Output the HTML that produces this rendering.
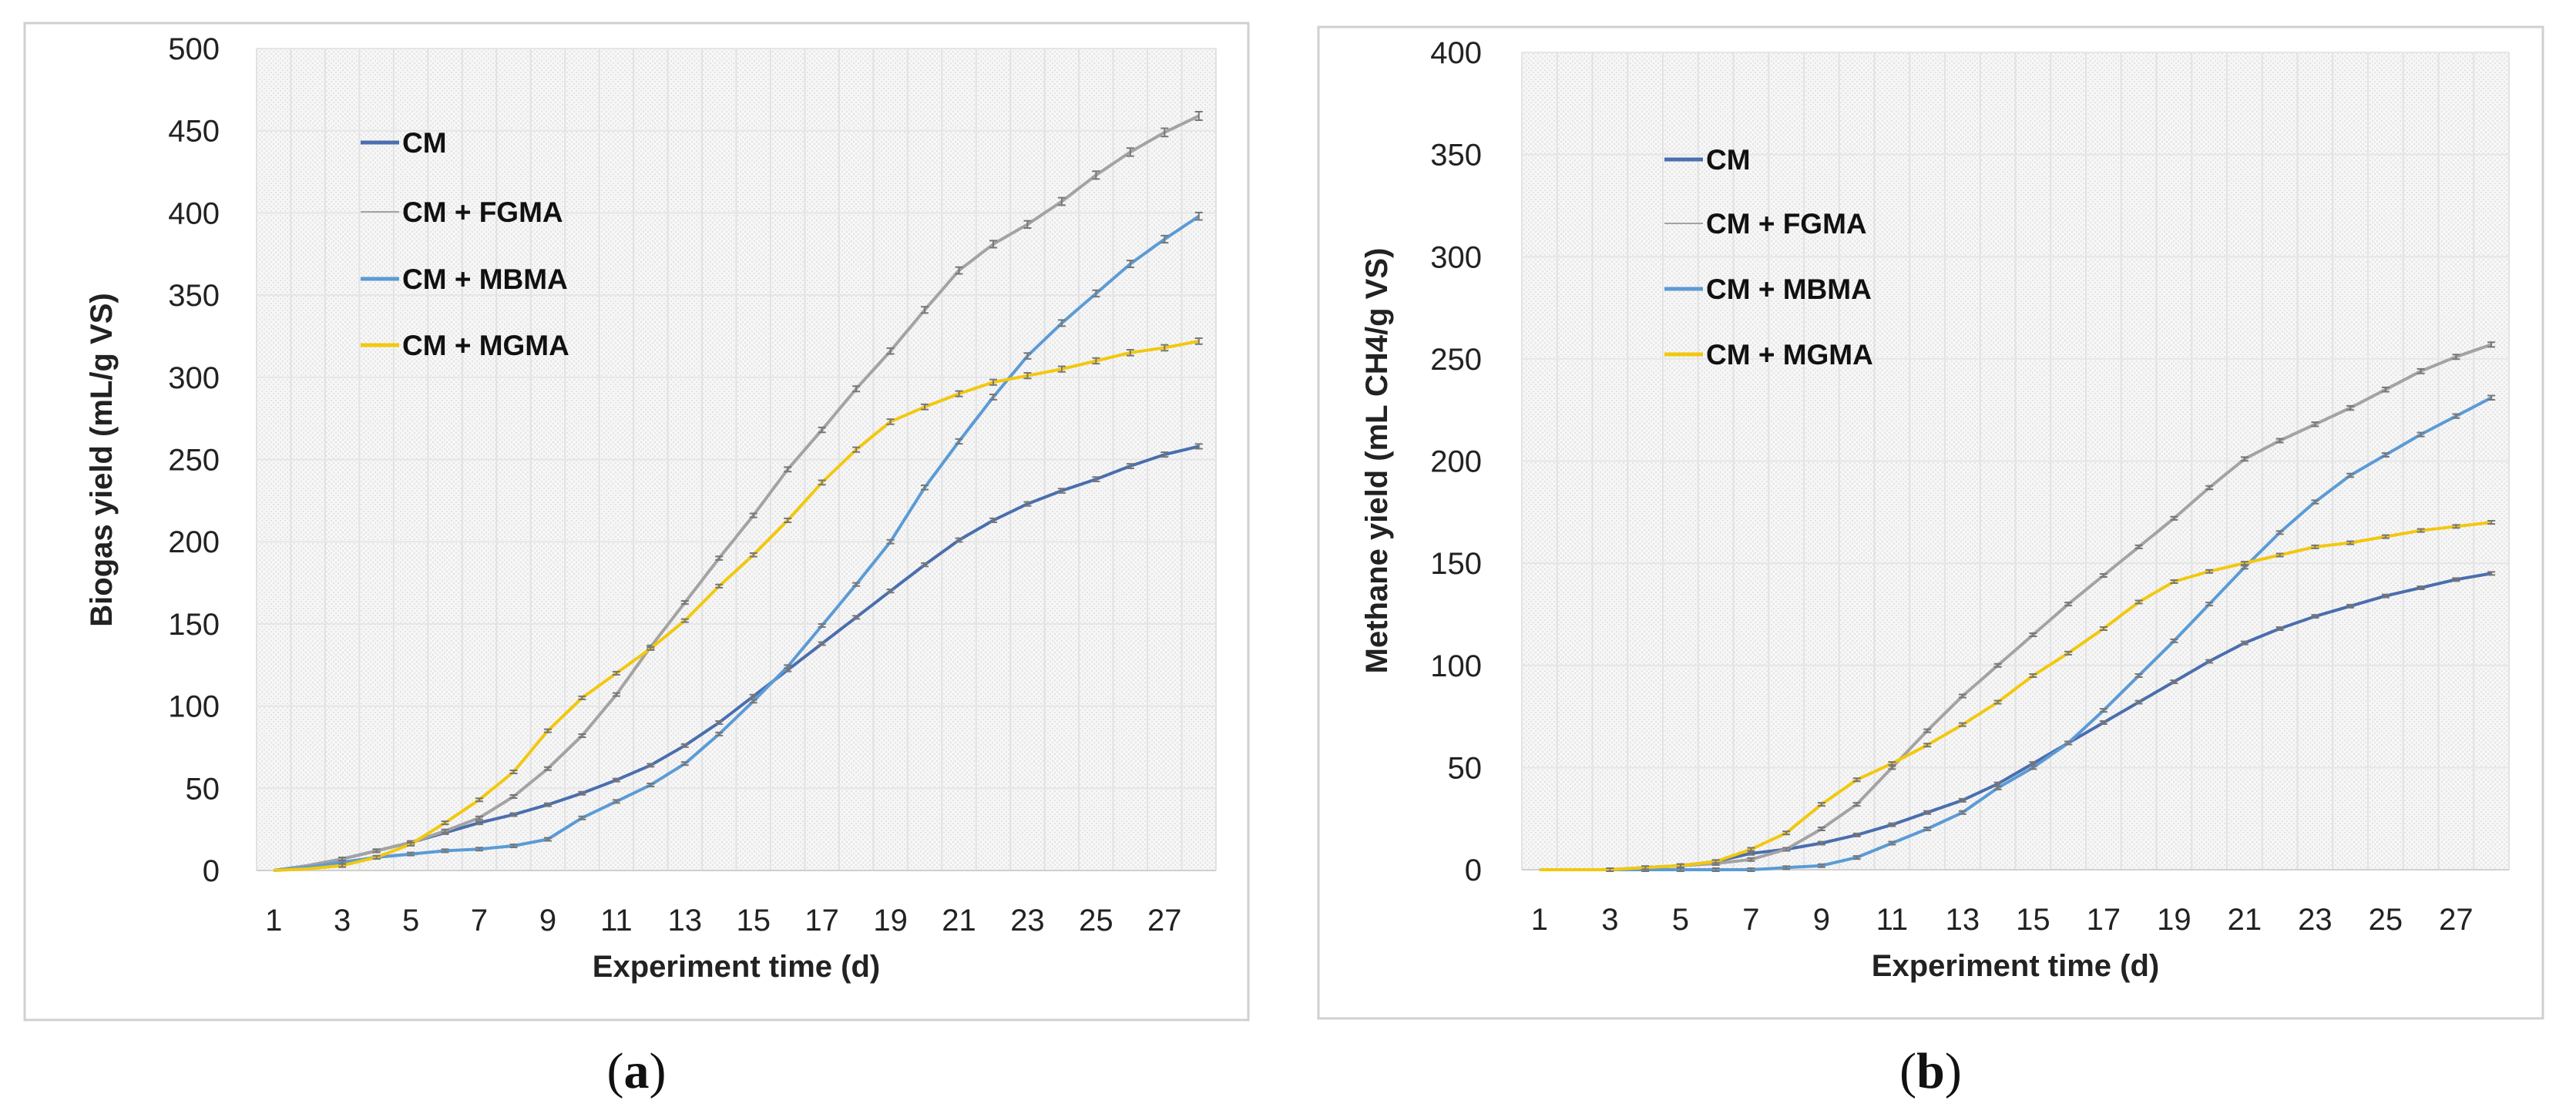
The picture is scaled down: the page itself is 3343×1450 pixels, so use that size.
<!DOCTYPE html>
<html><head><meta charset="utf-8"><style>
html,body{margin:0;padding:0;background:#fff;width:3343px;height:1450px;overflow:hidden}
svg text{font-family:"Liberation Sans",sans-serif}
</style></head><body>
<svg id="fig" width="3343" height="1450" viewBox="0 0 3343 1450" xmlns="http://www.w3.org/2000/svg">
<defs>
<pattern id="dots" width="6" height="6" patternUnits="userSpaceOnUse"><rect width="6" height="6" fill="#f6f6f6"/><rect width="2" height="2" fill="#e4e4e4"/><rect x="3" y="3" width="2" height="2" fill="#e4e4e4"/></pattern>
</defs>
</svg>
<script>
const days = [1,2,3,4,5,6,7,8,9,10,11,12,13,14,15,16,17,18,19,20,21,22,23,24,25,26,27,28];
const seriesNames = ["CM","CM + FGMA","CM + MBMA","CM + MGMA"];
const biogasCM = [0,3,7,12,17,23,29,34,40,47,55,64,76,90,106,122,138,154,170,186,201,213,223,231,238,246,253,258];
const biogasFGMA = [0,3,7,12,17,24,32,45,62,82,107,136,163,190,216,244,268,293,316,341,365,381,393,407,423,437,449,459];
const biogasMBMA = [0,2,5,8,10,12,13,15,19,32,42,52,65,83,103,124,149,174,200,233,261,288,313,333,351,369,384,398];
const biogasMGMA = [0,1,3,8,16,29,43,60,85,105,120,135,152,173,192,213,236,256,273,282,290,297,301,305,310,315,318,322];
const methaneCM = [0,0,0,1,2,4,8,10,13,17,22,28,34,42,52,62,72,82,92,102,111,118,124,129,134,138,142,145];
const methaneFGMA = [0,0,0,1,2,3,5,10,20,32,50,68,85,100,115,130,144,158,172,187,201,210,218,226,235,244,251,257];
const methaneMBMA = [0,0,0,0,0,0,0,1,2,6,13,20,28,40,50,62,78,95,112,130,148,165,180,193,203,213,222,231];
const methaneMGMA = [0,0,0,1,2,4,10,18,32,44,52,61,71,82,95,106,118,131,141,146,150,154,158,160,163,166,168,170];
const biogasTicks = [0,50,100,150,200,250,300,350,400,450,500];
const methaneTicks = [0,50,100,150,200,250,300,350,400];
const xTickLabels = [1,3,5,7,9,11,13,15,17,19,21,23,25,27];

const colors = ["#4a6eae","#a3a3a3","#5b9bd5","#f2c80f"];
const NS = "http://www.w3.org/2000/svg";
const svg = document.getElementById("fig");
function el(tag, attrs, parent){const e=document.createElementNS(NS,tag);for(const k in attrs)e.setAttribute(k,attrs[k]);(parent||svg).appendChild(e);return e;}

function panel(cfg){
  const g = el("g",{});
  
  
  const border = el("rect",{x:cfg.bx,y:cfg.by,width:cfg.bw,height:cfg.bh,fill:"#fff",stroke:"#d0d0d0","stroke-width":3},g);
  
  
  const L=cfg.left,R=cfg.right,T=cfg.top,B=cfg.bottom,maxV=cfg.ticks[cfg.ticks.length-1];
  const n=days.length, step=(R-L)/n;
  const xs=i=>L+(i+0.5)*step;
  const ys=v=>B-(v/maxV)*(B-T);
  const bg = el("rect",{x:L,y:T,width:R-L,height:B-T,fill:"url(#dots)"},g);
  
  
  for(let i=0;i<=n;i++){ el("line",{x1:L+i*step,x2:L+i*step,y1:T,y2:B,stroke:"#e2e2e2","stroke-width":2},g); }
  cfg.ticks.forEach(t=>{
    el("line",{x1:L,x2:R,y1:ys(t),y2:ys(t),stroke:"#e6e6e6","stroke-width":2},g);
    const tx=el("text",{x:cfg.labelRight,y:ys(t)+14,"font-size":40,"text-anchor":"end",fill:"#222"},g);
    tx.textContent=t;
    
    
  });
  el("line",{x1:L,x2:R,y1:B,y2:B,stroke:"#d0d0d0","stroke-width":2},g);
  xTickLabels.forEach(d=>{
    const tx=el("text",{x:xs(d-1),y:B+78,"font-size":40,"text-anchor":"middle",fill:"#222"},g);
    tx.textContent=d;
    
    
  });
  cfg.data.forEach((arr,s)=>{
    const pts=arr.map((v,i)=>xs(i).toFixed(1)+","+ys(v).toFixed(1)).join(" ");
    const pl=el("polyline",{points:pts,fill:"none",stroke:colors[s],"stroke-width":4,"stroke-linejoin":"round"},g);
    
    
    arr.forEach((v,i)=>{
      if(i<2) return;
      const e=Math.max(2,v*0.012), x=xs(i);
      el("path",{d:`M${x-5},${ys(v)-e}H${x+5}M${x},${ys(v)-e}V${ys(v)+e}M${x-5},${ys(v)+e}H${x+5}`,stroke:"#777","stroke-width":2,fill:"none"},g);
    });
  });
  seriesNames.forEach((nm,s)=>{
    const y=cfg.legY[s];
    const ln=el("line",{x1:cfg.legX,x2:cfg.legX+50,y1:y,y2:y,stroke:colors[s],"stroke-width":s==1?2:5},g);
    
    
    const tx=el("text",{x:cfg.legX+54,y:y+13,"font-size":37,"font-weight":"bold",fill:"#111"},g);
    tx.textContent=nm;
    
    
  });
  const xt=el("text",{x:(L+R)/2,y:B+138,"font-size":40,"font-weight":"bold","text-anchor":"middle",fill:"#222"},g);
  xt.textContent="Experiment time (d)";
  
  
  const yt=el("text",{x:0,y:0,"font-size":40,"font-weight":"bold","text-anchor":"middle",fill:"#222",transform:`translate(${cfg.ytX},${cfg.ytY}) rotate(-90)`},g);
  yt.textContent=cfg.ytitle;
  
  
  const cap=el("text",{x:(cfg.bx+cfg.bw/2),y:1412,"font-size":66,"text-anchor":"middle",fill:"#111"},g);
  cap.setAttribute('style','font-family:"Liberation Serif",serif');
  cap.innerHTML='(<tspan font-weight="bold">'+cfg.cap+'</tspan>)';
  
  
}

panel({name:"biogas-chart",bx:32,by:30,bw:1588,bh:1294,left:333,right:1578,top:63,bottom:1130,
  ticks:biogasTicks,labelRight:285,data:[biogasCM,biogasFGMA,biogasMBMA,biogasMGMA],
  legX:468,legY:[185,275,362,448],ytitle:"Biogas yield (mL/g VS)",ytX:145,ytY:597,cap:"a"});
panel({name:"methane-chart",bx:1711,by:35,bw:1589,bh:1287,left:1975,right:3256,top:68,bottom:1129,
  ticks:methaneTicks,labelRight:1923,data:[methaneCM,methaneFGMA,methaneMBMA,methaneMGMA],
  legX:2160,legY:[207,290,375,460],ytitle:"Methane yield (mL CH4/g VS)",ytX:1800,ytY:598,cap:"b"});
</script>
</body></html>
